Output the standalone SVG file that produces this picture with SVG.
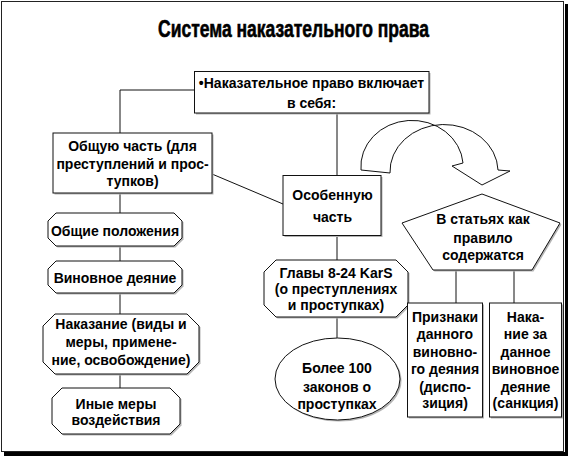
<svg xmlns="http://www.w3.org/2000/svg" width="568" height="456" viewBox="0 0 568 456">
<style>
.bx{fill:#fff;stroke:#111;stroke-width:1}
.sh{fill:#b4b4b4;stroke:none}
.t{font-family:"Liberation Sans",Arial,sans-serif;font-weight:bold;font-size:14px;text-anchor:middle;fill:#000}
.ln{stroke:#111;stroke-width:1;fill:none}
</style>
<rect x="0" y="0" width="568" height="456" fill="#fff"/>
<g id="frame">
<rect x="565" y="4" width="3" height="452" fill="#000"/>
<rect x="4" y="452" width="564" height="4" fill="#000"/>
<rect x="1.5" y="1.5" width="562" height="450" fill="none" stroke="#222" stroke-width="1"/>
</g>
<g id="title">
<text x="293.5" y="37" style="font-family:'Liberation Sans',Arial,sans-serif;font-weight:bold;font-size:24px;text-anchor:middle;stroke:#000;stroke-width:0.6" textLength="271" lengthAdjust="spacingAndGlyphs">Система наказательного права</text>
</g>
<g id="connectors">
<path class="ln" d="M194.5,90 H120 V133"/>
<path class="ln" d="M337,113 V175.5"/>
<path class="ln" d="M212,174 L283,204"/>
<path class="ln" d="M120,193 V213 M120,246 V261 M120,293 V314 M120,374 V388"/>
<path class="ln" d="M337,235.5 V260 M337,317 V338"/>
<path class="ln" d="M456,270 V303 M514,270 V303"/>
</g>
<g id="curved-arrow">
<path class="bx" d="M361,170 A51,46 0 0 1 463,163 L452,166 L482,185 L510,171 L498,170 A54,47 0 0 0 390,173 Z"/>
</g>
<g id="top">
<rect class="sh" x="196" y="73" width="234.5" height="41.5"/>
<rect class="bx" x="194.5" y="71.5" width="234.5" height="41.5"/>
<text class="t" x="311.5" y="87.5">•Наказательное право включает</text>
<text class="t" x="311.5" y="108">в себя:</text>
</g>
<g id="general">
<rect class="sh" x="54.5" y="134.5" width="159" height="60"/>
<rect class="bx" x="53" y="133" width="159" height="60"/>
<text class="t" x="132.5" y="151">Общую часть (для</text>
<text class="t" x="132.5" y="168.5">преступлений и прос-</text>
<text class="t" x="132.5" y="186">тупков)</text>
</g>
<g id="special">
<rect class="sh" x="284.5" y="177" width="98" height="60"/>
<rect class="bx" x="283" y="175.5" width="98" height="60"/>
<text class="t" x="332.5" y="200">Особенную</text>
<text class="t" x="332.5" y="222">часть</text>
</g>
<g id="provisions">
<polygon class="sh" transform="translate(1.5,1.5)" points="56,213 174,213 182,221 182,238 174,246 56,246 48,238 48,221"/>
<polygon class="bx" points="56,213 174,213 182,221 182,238 174,246 56,246 48,238 48,221"/>
<text class="t" x="115" y="236">Общие положения</text>
</g>
<g id="guilty-act">
<polygon class="sh" transform="translate(1.5,1.5)" points="56,261 174,261 182,269 182,285 174,293 56,293 48,285 48,269"/>
<polygon class="bx" points="56,261 174,261 182,269 182,285 174,293 56,293 48,285 48,269"/>
<text class="t" x="115" y="282.5">Виновное деяние</text>
</g>
<g id="punishment">
<polygon class="sh" transform="translate(1.5,1.5)" points="55,314 187,314 199,326 199,362 187,374 55,374 43,362 43,326"/>
<polygon class="bx" points="55,314 187,314 199,326 199,362 187,374 55,374 43,362 43,326"/>
<text class="t" x="121" y="329">Наказание (виды и</text>
<text class="t" x="121" y="347">меры, примене-</text>
<text class="t" x="121" y="365">ние, освобождение)</text>
</g>
<g id="other-measures">
<polygon class="sh" transform="translate(1.5,1.5)" points="62,388 170,388 180,398 180,424 170,434 62,434 52,424 52,398"/>
<polygon class="bx" points="62,388 170,388 180,398 180,424 170,434 62,434 52,424 52,398"/>
<text class="t" x="116" y="409">Иные меры</text>
<text class="t" x="116" y="425">воздействия</text>
</g>
<g id="chapters">
<polygon class="sh" transform="translate(1.5,1.5)" points="276,260 396,260 408,272 408,305 396,317 276,317 264,305 264,272"/>
<polygon class="bx" points="276,260 396,260 408,272 408,305 396,317 276,317 264,305 264,272"/>
<text class="t" x="336" y="278">Главы 8-24 KarS</text>
<text class="t" x="336" y="294">(о преступлениях</text>
<text class="t" x="336" y="310">и проступках)</text>
</g>
<g id="laws">
<ellipse class="sh" cx="339" cy="380.5" rx="62.5" ry="41"/>
<ellipse class="bx" cx="337.5" cy="379" rx="62.5" ry="41"/>
<text class="t" x="337" y="373">Более 100</text>
<text class="t" x="337" y="391.5">законов о</text>
<text class="t" x="337" y="409">проступках</text>
</g>
<g id="articles">
<polygon class="sh" transform="translate(1.5,1.5)" points="482,194 560,223 532,270 433,270 402,223"/>
<polygon class="bx" points="482,194 560,223 532,270 433,270 402,223"/>
<text class="t" x="483" y="224">В статьях как</text>
<text class="t" x="483" y="243">правило</text>
<text class="t" x="483" y="260">содержатся</text>
</g>
<g id="disposition">
<rect class="sh" x="409" y="304.5" width="75" height="114"/>
<rect class="bx" x="407.5" y="303" width="75" height="114"/>
<text class="t" x="445" y="321.5">Признаки</text>
<text class="t" x="445" y="339">данного</text>
<text class="t" x="445" y="357">виновно-</text>
<text class="t" x="445" y="374">го деяния</text>
<text class="t" x="445" y="391.5">(диспо-</text>
<text class="t" x="445" y="408">зиция)</text>
</g>
<g id="sanction">
<rect class="sh" x="491" y="304.5" width="72" height="114"/>
<rect class="bx" x="489.5" y="303" width="72" height="114"/>
<text class="t" x="525.5" y="321.5">Нака-</text>
<text class="t" x="525.5" y="339">ние за</text>
<text class="t" x="525.5" y="357">данное</text>
<text class="t" x="525.5" y="374">виновное</text>
<text class="t" x="525.5" y="391.5">деяние</text>
<text class="t" x="525.5" y="408">(санкция)</text>
</g>
</svg>
